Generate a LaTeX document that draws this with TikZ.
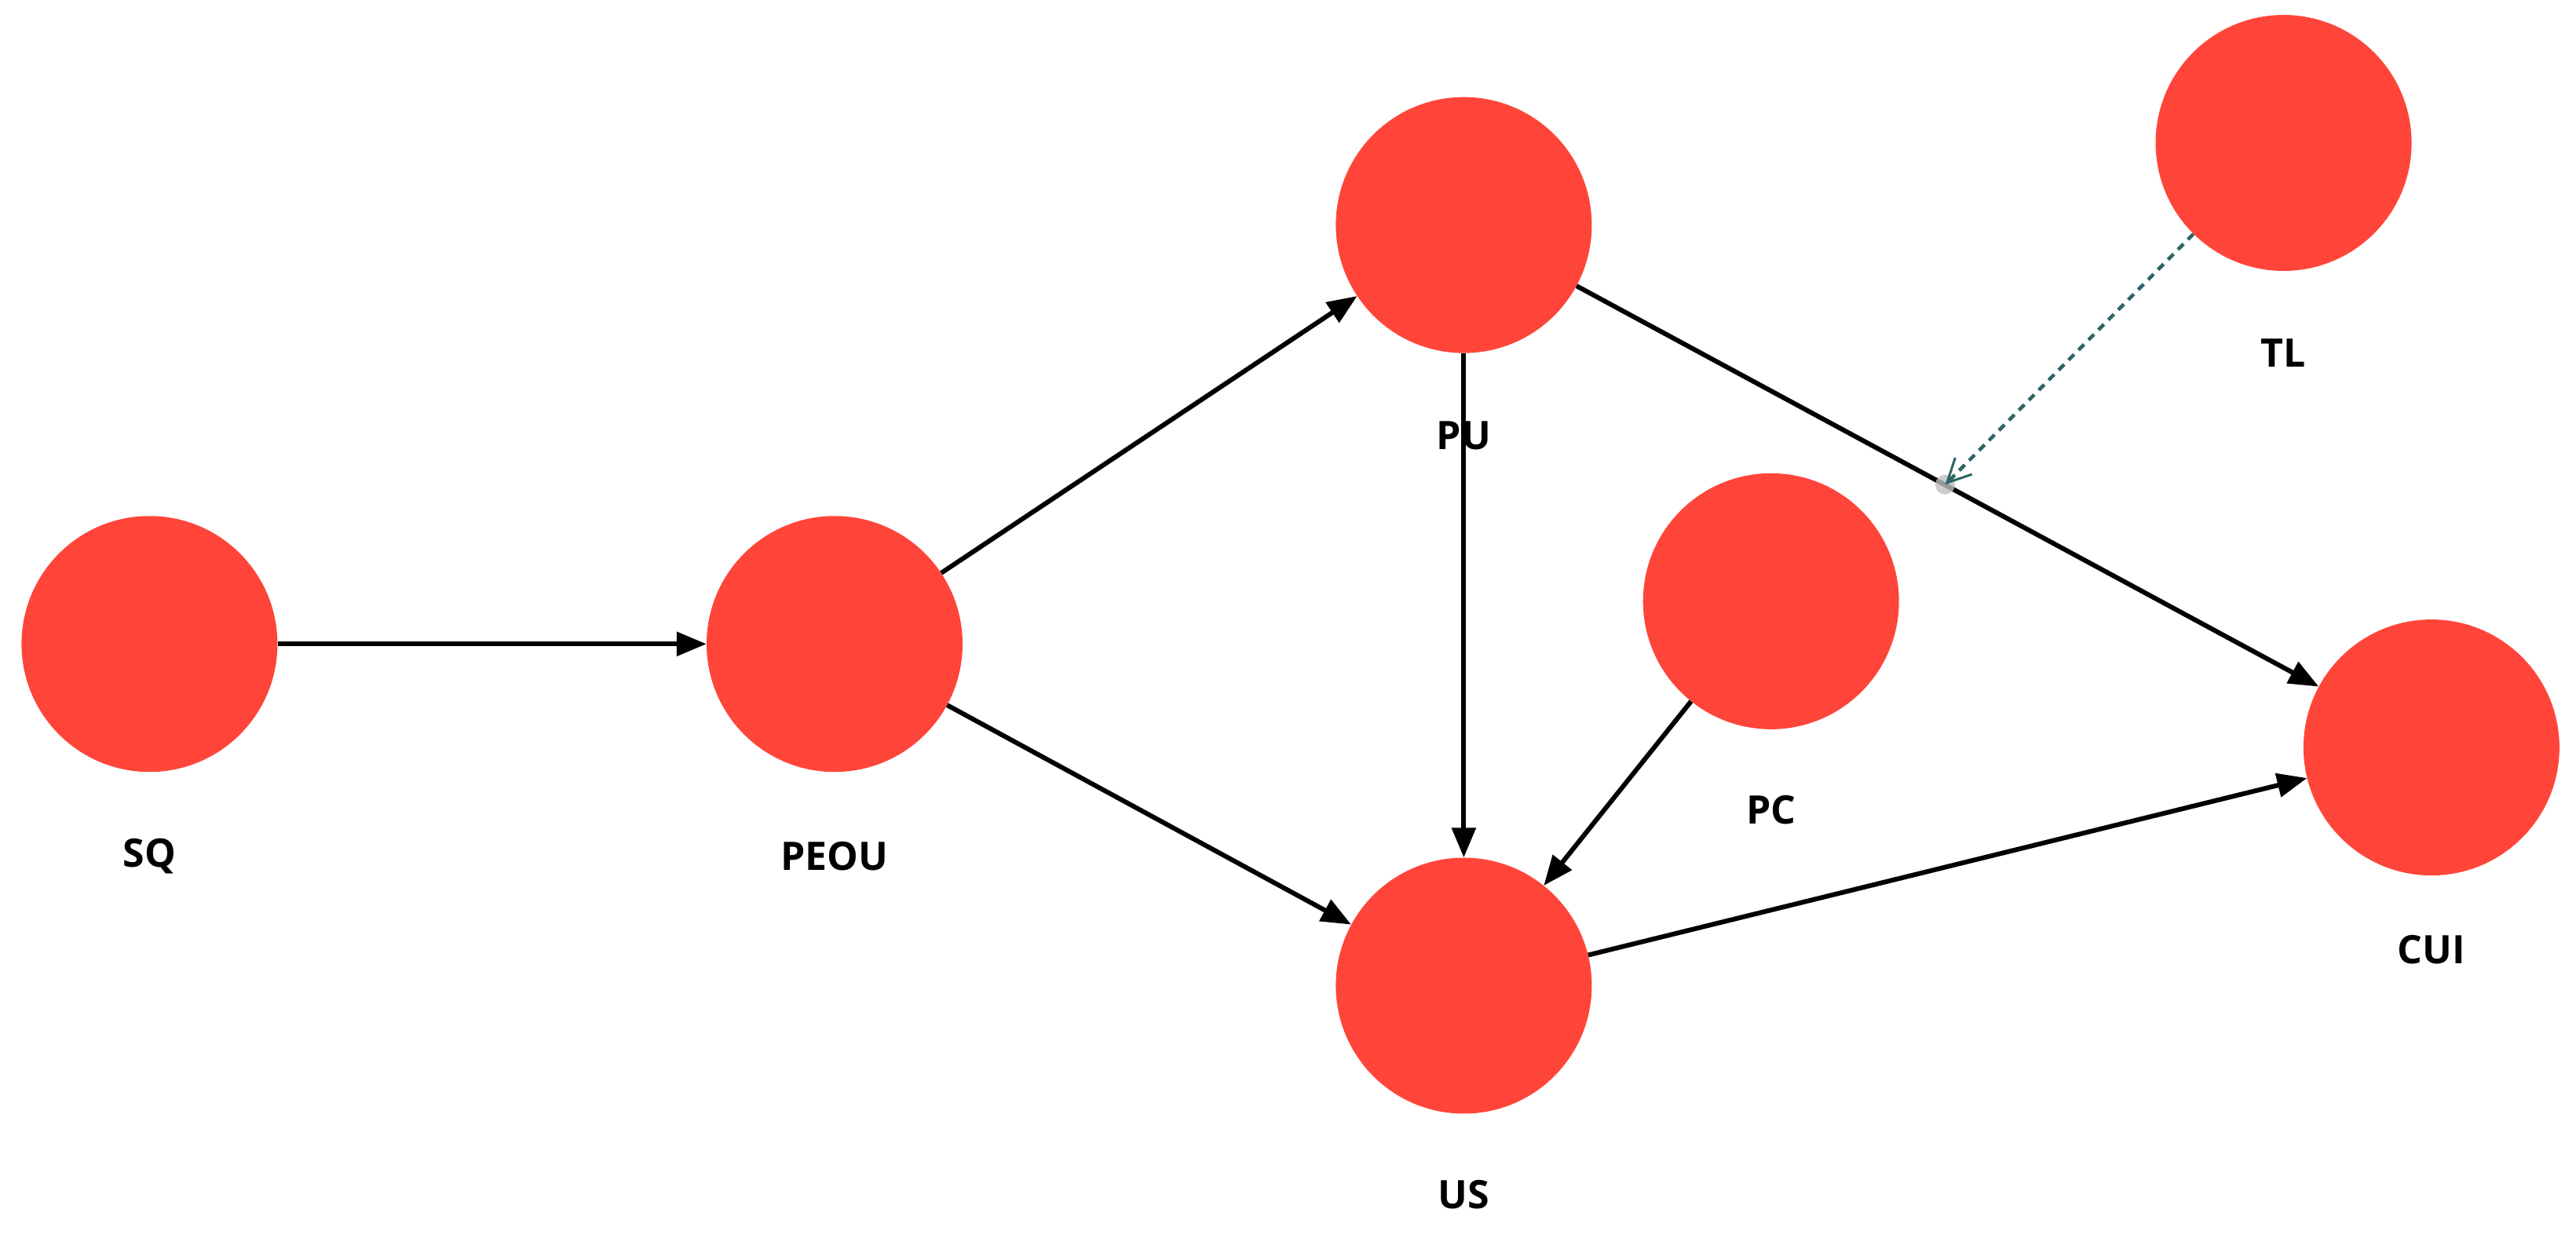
\documentclass[tikz,border=0pt]{standalone}
\usepackage{fontspec}
\setmainfont{Open Sans}
\usetikzlibrary{arrows.meta}
\definecolor{nodered}{HTML}{FF4539}
\definecolor{teal2}{HTML}{2E6466}
\tikzset{
  var/.style={circle,fill=nodered,minimum size=326pt,inner sep=0pt},
  lbl/.style={font=\fontsize{50}{60}\selectfont\bfseries},
  conn/.style={line width=6pt,-{Triangle[length=38pt,width=30pt]}},
}
\begin{document}
\begin{tikzpicture}[x=2.0925pt,y=-2.0925pt]
\useasboundingbox (0,0) rectangle (1568,756);
\node[var] (SQ) at (91,392) {};
\node[var] (PEOU) at (508,392) {};
\node[var] (PU) at (891,137) {};
\node[var] (TL) at (1390,87) {};
\node[var] (PC) at (1078,366) {};
\node[var] (CUI) at (1480,455) {};
\node[var] (US) at (891,600) {};
\node[lbl] (lSQ) at (91,521) {SQ};
\node[lbl] (lPEOU) at (508,521) {PEOU};
\node[lbl] (lPU) at (891,265) {PU};
\node[lbl] (lTL) at (1390,215) {TL};
\node[lbl] (lPC) at (1078,493) {PC};
\node[lbl] (lCUI) at (1480,578) {CUI};
\node[lbl] (lUS) at (891,727) {US};
\draw[conn] (SQ) -- (PEOU);
\draw[conn] (PEOU) -- (PU);
\draw[conn] (PEOU) -- (US);
\draw[conn] (PU) -- (US);
\draw[conn] (PC) -- (US);
\draw[conn] (US) -- (CUI);
\draw[conn] (PU) -- (CUI);
\coordinate (dot) at (1184,295);
\fill[gray!50,opacity=0.8] (dot) circle (6);
\draw[teal2,line width=4.5pt,dash pattern=on 10pt off 8pt,-{Straight Barb[length=30pt,width=30pt,line width=3pt]}] (TL) -- (dot);
\end{tikzpicture}
\end{document}
